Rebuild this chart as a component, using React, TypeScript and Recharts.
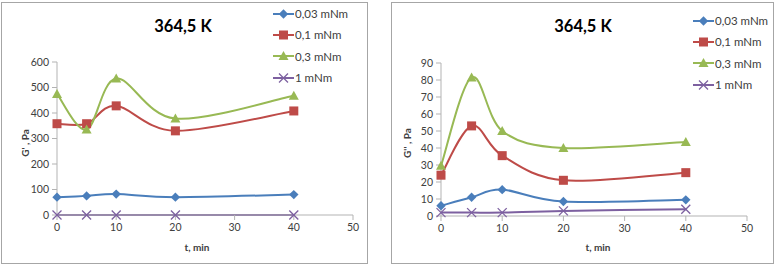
import React from 'react';
import { LineChart, Line, XAxis, YAxis, Legend } from 'recharts';

const times = [0, 5, 10, 20, 40];
const seriesNames = ['0,03 mNm', '0,1 mNm', '0,3 mNm', '1 mNm'];
const seriesColors = ['#4a7ebb', '#be4b48', '#98b954', '#7d60a0'];
const xTicks = [0, 10, 20, 30, 40, 50];

// G' , Pa
const storage003 = [70, 75, 82, 70, 80];
const storage01 = [358, 358, 428, 330, 408];
const storage03 = [475, 335, 535, 378, 468];
const storage1 = [0, 0, 0, 0, 0];
const storageTicks = [0, 100, 200, 300, 400, 500, 600];

// G'' , Pa
const loss003 = [6, 11, 15.5, 8.5, 9.5];
const loss01 = [24, 53, 35.5, 21, 25.5];
const loss03 = [29.5, 81.5, 50, 40, 43.5];
const loss1 = [2, 2, 2, 3, 4];
const lossTicks = [0, 10, 20, 30, 40, 50, 60, 70, 80, 90];

const buildRows = (cols: number[][]) =>
  times.map((t, i) => ({ t, s0: cols[0][i], s1: cols[1][i], s2: cols[2][i], s3: cols[3][i] }));

const storageRows = buildRows([storage003, storage01, storage03, storage1]);
const lossRows = buildRows([loss003, loss01, loss03, loss1]);

// Excel-style smoothed line (Catmull-Rom through the points)
const excelCurve = (context: any) => {
  let pts: number[][] = [];
  return {
    areaStart() {},
    areaEnd() {},
    lineStart() {
      pts = [];
    },
    lineEnd() {
      if (!pts.length) return;
      context.moveTo(pts[0][0], pts[0][1]);
      for (let i = 0; i < pts.length - 1; i++) {
        const p0 = pts[i - 1] || pts[i];
        const p1 = pts[i];
        const p2 = pts[i + 1];
        const p3 = pts[i + 2] || p2;
        context.bezierCurveTo(
          p1[0] + (p2[0] - p0[0]) / 6,
          p1[1] + (p2[1] - p0[1]) / 6,
          p2[0] - (p3[0] - p1[0]) / 6,
          p2[1] - (p3[1] - p1[1]) / 6,
          p2[0],
          p2[1]
        );
      }
    },
    point(x: number, y: number) {
      pts.push([+x, +y]);
    },
  };
};

const Marker = ({ kind, cx, cy, color }: { kind: number; cx: number; cy: number; color: string }) => {
  if (kind === 0) {
    const r = 4.7;
    return <polygon points={`${cx},${cy - r} ${cx + r},${cy} ${cx},${cy + r} ${cx - r},${cy}`} fill={color} />;
  }
  if (kind === 1) {
    return <rect x={cx - 4.5} y={cy - 4.5} width={9} height={9} fill={color} />;
  }
  if (kind === 2) {
    return <polygon points={`${cx},${cy - 5} ${cx + 5},${cy + 4} ${cx - 5},${cy + 4}`} fill={color} />;
  }
  return (
    <g stroke={color} strokeWidth={1.3}>
      <line x1={cx - 4.5} y1={cy - 4.5} x2={cx + 4.5} y2={cy + 4.5} />
      <line x1={cx - 4.5} y1={cy + 4.5} x2={cx + 4.5} y2={cy - 4.5} />
    </g>
  );
};

const tickStyle = { fontFamily: 'Lato, sans-serif', fontSize: 10.5, fill: '#404040' };

const LegendBox = ({ top, left }: { top: number; left: number }) => (
  <div style={{ position: 'absolute', top, left, fontFamily: 'Lato, sans-serif', fontSize: 11.5, color: '#404040' }}>
    {seriesNames.map((name, i) => (
      <div key={name} style={{ display: 'flex', alignItems: 'center', height: 21.3 }}>
        <svg width={21} height={12}>
          <line x1={0} y1={6} x2={21} y2={6} stroke={seriesColors[i]} strokeWidth={2} />
          <Marker kind={i} cx={10.5} cy={6} color={seriesColors[i]} />
        </svg>
        <span style={{ marginLeft: 1 }}>{name}</span>
      </div>
    ))}
  </div>
);

interface PanelProps {
  left: number;
  boxWidth: number;
  rows: any[];
  yTicks: number[];
  yMax: number;
  yLabel: string;
  margin: { top: number; right: number; bottom: number; left: number };
  chartWidth: number;
  titleX: number;
  axisTitleX: number;
  yTitleX: number;
  legendLeft: number;
  legendTop: number;
}

const Panel = (p: PanelProps) => (
  <div style={{ position: 'absolute', left: p.left, top: 0, width: p.chartWidth, height: 266 }}>
    <div
      style={{
        position: 'absolute',
        left: 1,
        top: 2,
        width: p.boxWidth,
        height: 262,
        border: '1px solid #a6a6a6',
        boxSizing: 'border-box',
      }}
    />
    <LineChart width={p.chartWidth} height={266} data={p.rows} margin={p.margin} style={{ position: 'absolute', left: 0, top: 0 }}>
      <XAxis
        dataKey="t"
        type="number"
        domain={[0, 50]}
        ticks={xTicks}
        height={20}
        stroke="#b3b3b3"
        tick={tickStyle}
        tickSize={5}
        tickMargin={4}
      />
      <YAxis
        type="number"
        domain={[0, p.yMax]}
        ticks={p.yTicks}
        width={30}
        stroke="#b3b3b3"
        tick={tickStyle}
        tickSize={5}
        tickMargin={3}
      />
      {seriesNames.map((name, i) => (
        <Line
          key={name}
          dataKey={`s${i}`}
          name={name}
          type={excelCurve as any}
          stroke={seriesColors[i]}
          strokeWidth={2}
          isAnimationActive={false}
          dot={(d: any) => <Marker key={`${name}-${d.index}`} kind={i} cx={d.cx} cy={d.cy} color={seriesColors[i]} />}
          activeDot={false}
        />
      ))}
      <Legend content={() => null} />
    </LineChart>
    <div
      style={{
        position: 'absolute',
        left: p.titleX - 60,
        width: 120,
        top: 16,
        textAlign: 'center',
        fontFamily: 'Lato, sans-serif',
        fontWeight: 'bold',
        fontSize: 16.5,
        color: '#000',
      }}
    >
      364,5 K
    </div>
    <div
      style={{
        position: 'absolute',
        left: p.axisTitleX - 40,
        width: 80,
        top: 241,
        textAlign: 'center',
        fontFamily: 'Lato, sans-serif',
        fontWeight: 'bold',
        fontSize: 10,
        color: '#404040',
      }}
    >
      t, min
    </div>
    <div
      style={{
        position: 'absolute',
        left: p.yTitleX - 30,
        top: 137,
        width: 60,
        textAlign: 'center',
        transform: 'rotate(-90deg)',
        fontFamily: 'Lato, sans-serif',
        fontWeight: 'bold',
        fontSize: 10,
        lineHeight: '12px',
        color: '#404040',
      }}
    >
      {p.yLabel}
    </div>
    <LegendBox top={p.legendTop} left={p.legendLeft} />
  </div>
);

export default function App() {
  return (
    <div style={{ position: 'absolute', left: 0, top: 0, width: 777, height: 266, background: '#fff' }}>
      <Panel
        left={0}
        boxWidth={367}
        chartWidth={380}
        rows={storageRows}
        yTicks={storageTicks}
        yMax={600}
        yLabel="G' , Pa"
        margin={{ top: 62, right: 27, bottom: 31, left: 27 }}
        titleX={183}
        axisTitleX={197}
        yTitleX={25}
        legendLeft={273}
        legendTop={3}
      />
      <Panel
        left={390}
        boxWidth={383}
        chartWidth={387}
        rows={lossRows}
        yTicks={lossTicks}
        yMax={90}
        yLabel="G'' , Pa"
        margin={{ top: 63, right: 30, bottom: 30, left: 21 }}
        titleX={193}
        axisTitleX={208}
        yTitleX={17}
        legendLeft={303}
        legendTop={10}
      />
    </div>
  );
}
